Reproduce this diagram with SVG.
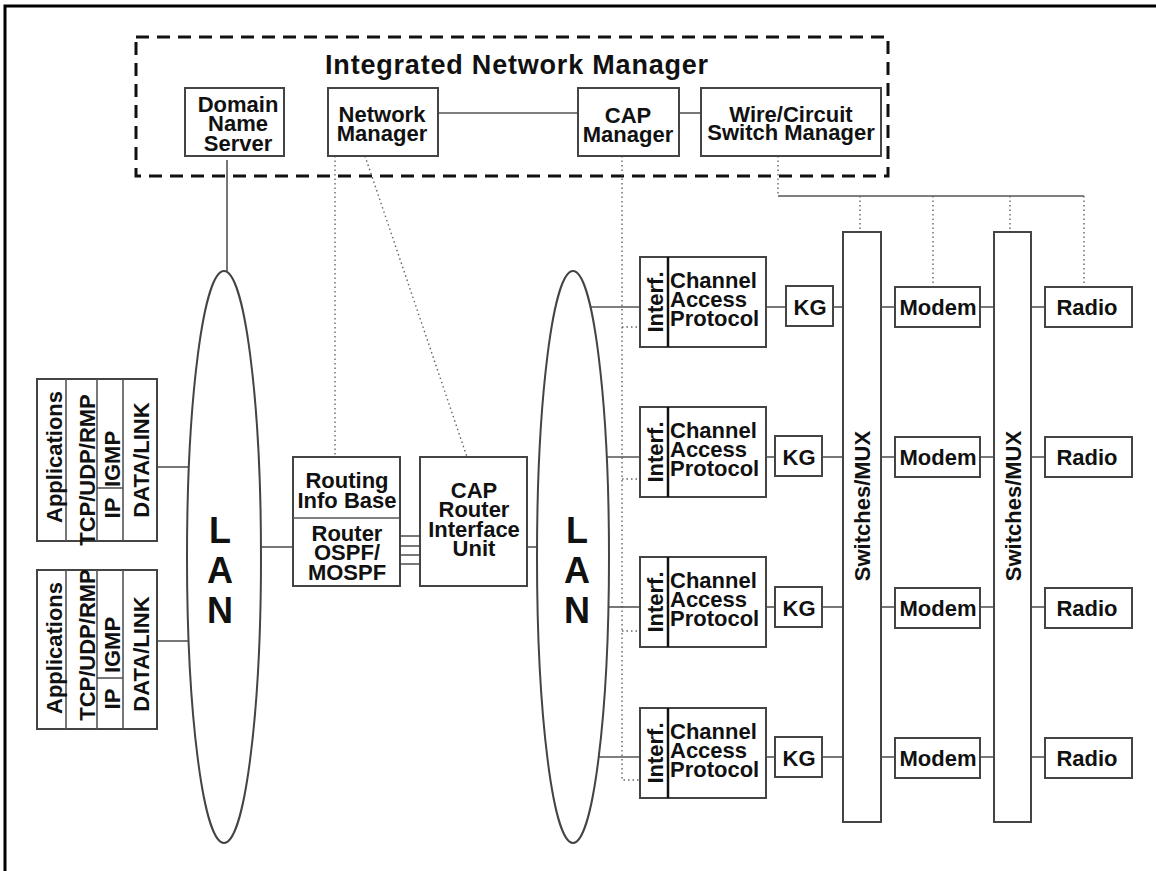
<svg xmlns="http://www.w3.org/2000/svg" width="1156" height="871" viewBox="0 0 1156 871">
<style>
.box{fill:#fff;stroke:#444;stroke-width:2}
.ln{stroke:#555;stroke-width:1.6;fill:none}
.dot{stroke:#666;stroke-width:1.4;stroke-dasharray:1.5 3;fill:none}
.div{stroke:#111;stroke-width:2.5}
.t{font-family:"Liberation Sans",Arial,sans-serif;font-weight:bold;font-size:22px;fill:#111}
.c{text-anchor:middle}
.lan{font-family:"Liberation Sans",Arial,sans-serif;font-weight:bold;font-size:36px;fill:#111;text-anchor:middle}
</style>
<rect width="1156" height="871" fill="#fff"/>
<path d="M5,871V6H1156" fill="none" stroke="#000" stroke-width="3"/>

<g id="inm">
<rect x="136" y="37" width="752" height="139" fill="none" stroke="#111" stroke-width="3" stroke-dasharray="13 8"/>
<text class="t c" x="517" y="74" style="font-size:27px;letter-spacing:0.8px">Integrated Network Manager</text>
</g>

<g id="connectors">
<line class="ln" x1="438" y1="113" x2="578" y2="113"/>
<line class="ln" x1="679" y1="113" x2="701" y2="113"/>
<line class="ln" x1="227" y1="160" x2="227" y2="271"/>
<line class="dot" x1="335" y1="156" x2="335" y2="457"/>
<line class="dot" x1="365" y1="156" x2="467" y2="457"/>
<polyline class="dot" points="622,156 622,780 640,780"/>
<line class="dot" x1="622" y1="327" x2="640" y2="327"/>
<line class="dot" x1="622" y1="479" x2="640" y2="479"/>
<line class="dot" x1="622" y1="631" x2="640" y2="631"/>
<line class="dot" x1="778" y1="156" x2="778" y2="196"/>
<line class="ln" x1="778" y1="196" x2="1084" y2="196"/>
<line class="dot" x1="860" y1="196" x2="860" y2="232"/>
<line class="dot" x1="933" y1="196" x2="933" y2="287"/>
<line class="dot" x1="1010" y1="196" x2="1010" y2="232"/>
<line class="dot" x1="1084" y1="196" x2="1084" y2="287"/>
<line class="ln" x1="157" y1="467" x2="189" y2="467"/>
<line class="ln" x1="157" y1="641" x2="188" y2="641"/>
<line class="ln" x1="261" y1="547" x2="293" y2="547"/>
<line class="ln" x1="400" y1="536" x2="420" y2="536"/>
<line class="ln" x1="400" y1="546" x2="420" y2="546"/>
<line class="ln" x1="400" y1="555" x2="420" y2="555"/>
<line class="ln" x1="400" y1="564" x2="420" y2="564"/>
<line class="ln" x1="527" y1="547" x2="538" y2="547"/>
<!-- rows -->
<line class="ln" x1="591" y1="307" x2="640" y2="307"/>
<line class="ln" x1="606" y1="457" x2="640" y2="457"/>
<line class="ln" x1="608" y1="607" x2="640" y2="607"/>
<line class="ln" x1="598" y1="757" x2="640" y2="757"/>
<line class="ln" x1="766" y1="307" x2="786" y2="307"/>
<line class="ln" x1="833" y1="307" x2="843" y2="307"/>
<line class="ln" x1="766" y1="457" x2="775" y2="457"/>
<line class="ln" x1="822" y1="457" x2="843" y2="457"/>
<line class="ln" x1="766" y1="607" x2="775" y2="607"/>
<line class="ln" x1="822" y1="607" x2="843" y2="607"/>
<line class="ln" x1="766" y1="757" x2="775" y2="757"/>
<line class="ln" x1="822" y1="757" x2="843" y2="757"/>
<line class="ln" x1="881" y1="307" x2="895" y2="307"/>
<line class="ln" x1="980" y1="307" x2="994" y2="307"/>
<line class="ln" x1="1031" y1="307" x2="1045" y2="307"/>
<line class="ln" x1="881" y1="457" x2="895" y2="457"/>
<line class="ln" x1="980" y1="457" x2="994" y2="457"/>
<line class="ln" x1="1031" y1="457" x2="1045" y2="457"/>
<line class="ln" x1="881" y1="607" x2="895" y2="607"/>
<line class="ln" x1="980" y1="607" x2="994" y2="607"/>
<line class="ln" x1="1031" y1="607" x2="1045" y2="607"/>
<line class="ln" x1="881" y1="757" x2="895" y2="757"/>
<line class="ln" x1="980" y1="757" x2="994" y2="757"/>
<line class="ln" x1="1031" y1="757" x2="1045" y2="757"/>
</g>

<g id="dns">
<rect class="box" x="185" y="88" width="99" height="68"/>
<text class="t c" x="238" y="112">Domain</text>
<text class="t c" x="238" y="131">Name</text>
<text class="t c" x="238" y="151">Server</text>
</g>
<g id="netmgr">
<rect class="box" x="328" y="88" width="110" height="68"/>
<text class="t c" x="382" y="122">Network</text>
<text class="t c" x="382" y="141">Manager</text>
</g>
<g id="capmgr">
<rect class="box" x="578" y="88" width="101" height="68"/>
<text class="t c" x="628" y="123">CAP</text>
<text class="t c" x="628" y="142">Manager</text>
</g>
<g id="wiremgr">
<rect class="box" x="701" y="88" width="180" height="68"/>
<text class="t c" x="791" y="122">Wire/Circuit</text>
<text class="t c" x="791" y="140">Switch Manager</text>
</g>

<g id="stack1">
<rect class="box" x="37" y="379" width="120" height="162"/>
<line class="ln" x1="66" y1="379" x2="66" y2="541"/>
<line class="ln" x1="97" y1="379" x2="97" y2="541"/>
<line class="ln" x1="123" y1="379" x2="123" y2="541"/>
<line class="ln" x1="97" y1="488" x2="123" y2="488"/>
<text class="t c" transform="translate(62,457) rotate(-90)">Applications</text>
<text class="t c" transform="translate(95,470) rotate(-90)">TCP/UDP/RMP</text>
<text class="t c" transform="translate(120,508) rotate(-90)">IP</text>
<text class="t c" transform="translate(120,459) rotate(-90)">IGMP</text>
<text class="t c" transform="translate(149,460) rotate(-90)">DATA/LINK</text>
</g>
<g id="stack2">
<rect class="box" x="37" y="570" width="120" height="159"/>
<line class="ln" x1="66" y1="570" x2="66" y2="729"/>
<line class="ln" x1="97" y1="570" x2="97" y2="729"/>
<line class="ln" x1="123" y1="570" x2="123" y2="729"/>
<line class="ln" x1="97" y1="678" x2="123" y2="678"/>
<text class="t c" transform="translate(62,648) rotate(-90)">Applications</text>
<text class="t c" transform="translate(95,645) rotate(-90)">TCP/UDP/RMP</text>
<text class="t c" transform="translate(120,699) rotate(-90)">IP</text>
<text class="t c" transform="translate(120,645) rotate(-90)">IGMP</text>
<text class="t c" transform="translate(149,654) rotate(-90)">DATA/LINK</text>
</g>

<g id="lan1">
<ellipse cx="224" cy="557" rx="37" ry="286" fill="none" stroke="#444" stroke-width="2"/>
<text class="lan" x="220" y="543">L</text>
<text class="lan" x="220" y="583">A</text>
<text class="lan" x="220" y="623">N</text>
</g>

<g id="router">
<rect class="box" x="293" y="457" width="107" height="129"/>
<line class="ln" x1="293" y1="518" x2="400" y2="518"/>
<text class="t c" x="347" y="488">Routing</text>
<text class="t c" x="347" y="508">Info Base</text>
<text class="t c" x="347" y="541">Router</text>
<text class="t c" x="347" y="560">OSPF/</text>
<text class="t c" x="347" y="580">MOSPF</text>
</g>

<g id="capriu">
<rect class="box" x="420" y="457" width="107" height="129"/>
<text class="t c" x="474" y="498">CAP</text>
<text class="t c" x="474" y="517">Router</text>
<text class="t c" x="474" y="537">Interface</text>
<text class="t c" x="474" y="556">Unit</text>
</g>

<g id="lan2">
<ellipse cx="573" cy="557" rx="36" ry="286" fill="none" stroke="#444" stroke-width="2"/>
<text class="lan" x="577" y="543">L</text>
<text class="lan" x="577" y="583">A</text>
<text class="lan" x="577" y="623">N</text>
</g>

<g id="cap1">
<rect class="box" x="640" y="257" width="126" height="90"/>
<line class="div" x1="668" y1="257" x2="668" y2="347"/>
<text class="t c" transform="translate(663,302) rotate(-90)">Interf.</text>
<text class="t" x="670" y="288">Channel</text>
<text class="t" x="670" y="307">Access</text>
<text class="t" x="670" y="326">Protocol</text>
</g>
<g id="cap2">
<rect class="box" x="640" y="407" width="126" height="90"/>
<line class="div" x1="668" y1="407" x2="668" y2="497"/>
<text class="t c" transform="translate(663,452) rotate(-90)">Interf.</text>
<text class="t" x="670" y="438">Channel</text>
<text class="t" x="670" y="457">Access</text>
<text class="t" x="670" y="476">Protocol</text>
</g>
<g id="cap3">
<rect class="box" x="640" y="557" width="126" height="90"/>
<line class="div" x1="668" y1="557" x2="668" y2="647"/>
<text class="t c" transform="translate(663,602) rotate(-90)">Interf.</text>
<text class="t" x="670" y="588">Channel</text>
<text class="t" x="670" y="607">Access</text>
<text class="t" x="670" y="626">Protocol</text>
</g>
<g id="cap4">
<rect class="box" x="640" y="708" width="126" height="90"/>
<line class="div" x1="668" y1="708" x2="668" y2="798"/>
<text class="t c" transform="translate(663,753) rotate(-90)">Interf.</text>
<text class="t" x="670" y="739">Channel</text>
<text class="t" x="670" y="758">Access</text>
<text class="t" x="670" y="777">Protocol</text>
</g>

<g id="kg1"><rect class="box" x="786" y="286" width="47" height="40"/><text class="t c" x="810" y="315">KG</text></g>
<g id="kg2"><rect class="box" x="775" y="436" width="47" height="40"/><text class="t c" x="799" y="465">KG</text></g>
<g id="kg3"><rect class="box" x="775" y="587" width="47" height="40"/><text class="t c" x="799" y="616">KG</text></g>
<g id="kg4"><rect class="box" x="775" y="737" width="47" height="40"/><text class="t c" x="799" y="766">KG</text></g>

<g id="sw1">
<rect class="box" x="843" y="232" width="38" height="590"/>
<text class="t c" transform="translate(870,506) rotate(-90)">Switches/MUX</text>
</g>
<g id="sw2">
<rect class="box" x="994" y="232" width="37" height="590"/>
<text class="t c" transform="translate(1021,506) rotate(-90)">Switches/MUX</text>
</g>

<g id="modem1"><rect class="box" x="895" y="287" width="85" height="40"/><text class="t c" x="938" y="315">Modem</text></g>
<g id="modem2"><rect class="box" x="895" y="437" width="85" height="40"/><text class="t c" x="938" y="465">Modem</text></g>
<g id="modem3"><rect class="box" x="895" y="588" width="85" height="40"/><text class="t c" x="938" y="616">Modem</text></g>
<g id="modem4"><rect class="box" x="895" y="738" width="85" height="40"/><text class="t c" x="938" y="766">Modem</text></g>

<g id="radio1"><rect class="box" x="1045" y="287" width="87" height="40"/><text class="t c" x="1087" y="315">Radio</text></g>
<g id="radio2"><rect class="box" x="1045" y="437" width="87" height="40"/><text class="t c" x="1087" y="465">Radio</text></g>
<g id="radio3"><rect class="box" x="1045" y="588" width="87" height="40"/><text class="t c" x="1087" y="616">Radio</text></g>
<g id="radio4"><rect class="box" x="1045" y="738" width="87" height="40"/><text class="t c" x="1087" y="766">Radio</text></g>
</svg>
